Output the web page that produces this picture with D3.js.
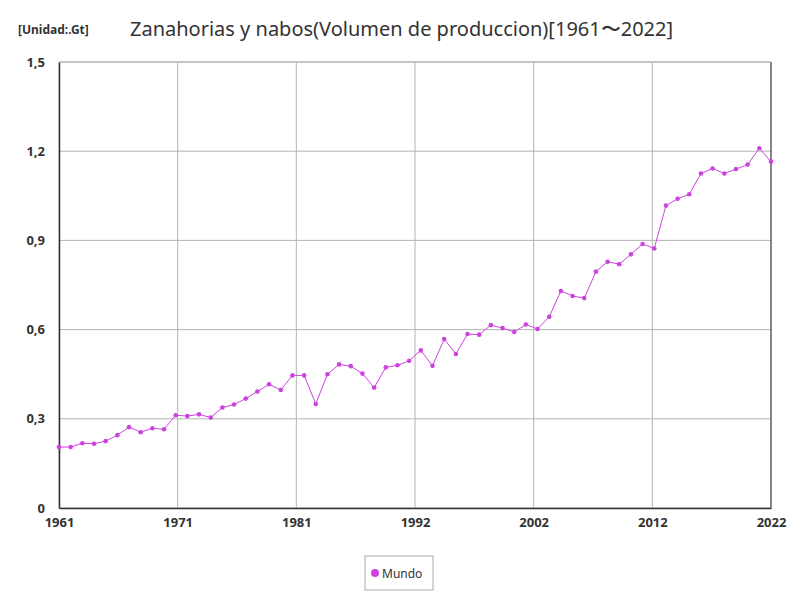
<!DOCTYPE html>
<html><head><meta charset="utf-8">
<script src="https://cdn.jsdelivr.net/npm/d3@7.9.0/dist/d3.min.js"></script>
<style>body{margin:0;background:#fff;font-family:"Noto Sans",sans-serif;}</style>
</head><body><svg id="chart" width="800" height="600"></svg>
<script>
const years = d3.range(1961, 2023);
const mundo = [0.205,0.205,0.218,0.216,0.225,0.245,0.272,0.255,0.268,0.265,
  0.312,0.309,0.315,0.304,0.338,0.348,0.368,0.392,0.416,0.397,
  0.446,0.446,0.350,0.450,0.483,0.477,0.452,0.405,0.473,0.480,
  0.495,0.530,0.478,0.568,0.518,0.585,0.583,0.615,0.605,0.592,
  0.617,0.602,0.643,0.730,0.713,0.706,0.795,0.828,0.820,0.853,
  0.888,0.873,1.017,1.040,1.055,1.125,1.142,1.125,1.140,1.155,
  1.210,1.165];
const yTicks = [0, 0.3, 0.6, 0.9, 1.2, 1.5];
const xTicks = d3.range(7).map(k => 1961 + k * 61 / 6);

const svg = d3.select('#chart');
const margin = { top: 62, right: 29, bottom: 92, left: 59 };
const width = 800, height = 600;
const x = d3.scaleLinear().domain([1961, 2022]).range([margin.left, width - margin.right]);
const y = d3.scaleLinear().domain([0, 1.5]).range([height - margin.bottom, margin.top]);
const fmt = d => d === 0 ? '0' : d.toFixed(1).replace('.', ',');

// grid
svg.append('g').selectAll('line').data(yTicks).join('line')
  .attr('x1', margin.left).attr('x2', width - margin.right)
  .attr('y1', d => y(d)).attr('y2', d => y(d))
  .attr('stroke', '#b4b4b4').attr('stroke-width', 1);
svg.append('g').selectAll('line').data(xTicks).join('line')
  .attr('y1', margin.top).attr('y2', height - margin.bottom)
  .attr('x1', d => x(d)).attr('x2', d => x(d))
  .attr('stroke', '#b4b4b4').attr('stroke-width', 1);

// axes
const xAxis = d3.axisBottom(x).tickValues(xTicks).tickFormat(d => Math.round(d)).tickSize(0).tickPadding(10);
const yAxis = d3.axisLeft(y).tickValues(yTicks).tickFormat(fmt).tickSize(0).tickPadding(14);
const gx = svg.append('g').attr('transform', `translate(0,${height - margin.bottom})`).call(xAxis);
const gy = svg.append('g').attr('transform', `translate(${margin.left},0)`).call(yAxis);
[gx, gy].forEach(g => {
  g.select('.domain').attr('stroke', '#333').attr('stroke-width', 1.5);
  g.selectAll('text').attr('font-size', 13).attr('font-weight', 'bold').attr('fill', '#333')
    .attr('font-family', '"Noto Sans",sans-serif');
});
svg.append('line').attr('x1', width - margin.right).attr('x2', width - margin.right)
  .attr('y1', margin.top).attr('y2', height - margin.bottom).attr('stroke', '#333');
svg.append('line').attr('x1', margin.left).attr('x2', width - margin.right)
  .attr('y1', margin.top).attr('y2', margin.top).attr('stroke', '#b4b4b4');

// line + points
const data = years.map((yr, i) => ({ yr, v: mundo[i] }));
svg.append('path').datum(data)
  .attr('fill', 'none').attr('stroke', '#cc44dd').attr('stroke-width', 1)
  .attr('d', d3.line().x(d => x(d.yr)).y(d => y(d.v)));
svg.append('g').selectAll('circle').data(data).join('circle')
  .attr('cx', d => x(d.yr)).attr('cy', d => y(d.v)).attr('r', 2.3).attr('fill', '#cc44dd');

// titles
svg.append('text').attr('x', 18).attr('y', 34).attr('font-size', 12).attr('font-weight', 'bold')
  .attr('fill', '#333').text('[Unidad:.Gt]');
svg.append('text').attr('x', 130).attr('y', 36).attr('font-size', 20).attr('fill', '#333')
  .text('Zanahorias y nabos(Volumen de produccion)[1961〜2022]');

// legend
const lg = svg.append('g').attr('transform', 'translate(365,556)');
lg.append('rect').attr('width', 68).attr('height', 34).attr('fill', '#fff').attr('stroke', '#aaa');
lg.append('circle').attr('cx', 10).attr('cy', 17).attr('r', 4).attr('fill', '#cc44dd');
lg.append('text').attr('x', 17).attr('y', 21.5).attr('font-size', 12).attr('fill', '#333').text('Mundo');
</script></body></html>
